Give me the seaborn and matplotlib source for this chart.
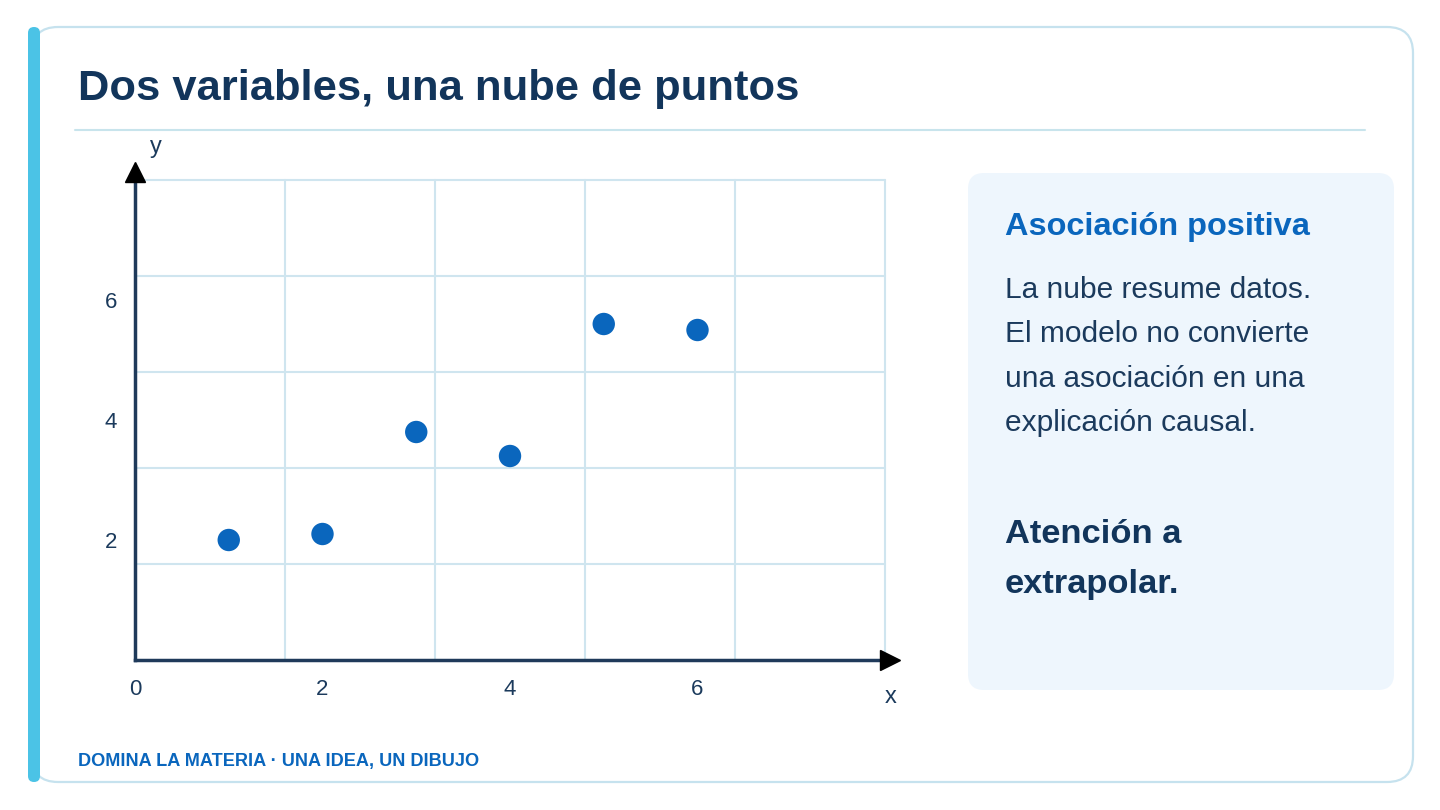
import numpy as np
import pandas as pd
import matplotlib
matplotlib.use("Agg")
import matplotlib.pyplot as plt
from matplotlib.patches import FancyBboxPatch
import seaborn as sns

# ---- data ----
x_vals = [1, 2, 3, 4, 5, 6]
y_vals = [2.0, 2.1, 3.8, 3.4, 5.6, 5.5]
x_ticks = [0, 2, 4, 6]
y_ticks = [2, 4, 6]
title = "Dos variables, una nube de puntos"
panel_heading = "Asociación positiva"
panel_body = ["La nube resume datos.", "El modelo no convierte",
              "una asociación en una", "explicación causal."]
panel_note = ["Atención a", "extrapolar."]
footer = "DOMINA LA MATERIA · UNA IDEA, UN DIBUJO"

sns.set_theme(style="white")
plt.rcParams['font.family'] = ['Liberation Sans', 'DejaVu Sans']

NAVY = "#12355B"
BLUE = "#0A66BD"
GRID = "#CFE5EF"
W, H = 1440, 810

fig = plt.figure(figsize=(14.4, 8.1), dpi=100)
fig.patch.set_facecolor("white")

# background / decoration axes in pixel coordinates
bg = fig.add_axes([0, 0, 1, 1], zorder=0)
bg.set_xlim(0, W)
bg.set_ylim(H, 0)
bg.axis("off")

card = FancyBboxPatch((32, 27), 1381, 755, boxstyle="round,pad=0,rounding_size=26",
                      facecolor="white", edgecolor="#C6E2EE", linewidth=1.6)
bg.add_patch(card)
bar = FancyBboxPatch((28, 27), 12, 755, boxstyle="round,pad=0,rounding_size=6",
                     facecolor="#4BC3E6", edgecolor="none")
bg.add_patch(bar)
bg.plot([75, 1365], [130, 130], color="#C8E4EC", lw=1.5)

panel = FancyBboxPatch((968, 173), 426, 517, boxstyle="round,pad=0,rounding_size=16",
                       facecolor="#EEF6FD", edgecolor="none")
bg.add_patch(panel)

bg.text(78, 100, title, fontsize=31.3, fontweight="bold", color=NAVY, va="baseline", ha="left")
bg.text(1005, 235, panel_heading, fontsize=23.4, fontweight="bold", color=BLUE, va="baseline")
for i, line in enumerate(panel_body):
    bg.text(1005, 298 + i * 44.4, line, fontsize=21.5, color="#1B3A5C", va="baseline")
for i, line in enumerate(panel_note):
    bg.text(1005, 543 + i * 50, line, fontsize=24.8, fontweight="bold", color=NAVY, va="baseline")
bg.text(78, 766, footer, fontsize=13.1, fontweight="bold", color=BLUE, va="baseline")

# chart axes
x0, x1, ytop, ybot = 135, 885, 180, 660
ax = fig.add_axes([x0 / W, (H - ybot) / H, (x1 - x0) / W, (ybot - ytop) / H], zorder=2)
ax.patch.set_alpha(0)
ax.set_xlim(0, 8)
ax.set_ylim(0, 8)

grid_pos = np.linspace(0, 8, 6)
for g in grid_pos[1:]:
    ax.axvline(g, color=GRID, lw=1.5, zorder=0, clip_on=False)
    ax.axhline(g, color=GRID, lw=1.5, zorder=0, clip_on=False)

df = pd.DataFrame({"x": x_vals, "y": y_vals})
sns.scatterplot(data=df, x="x", y="y", ax=ax, s=260, color=BLUE, edgecolor="none", zorder=3)

for s in ["top", "right"]:
    ax.spines[s].set_visible(False)
for s in ["left", "bottom"]:
    ax.spines[s].set_color("#1F3A5A")
    ax.spines[s].set_linewidth(2.5)
    ax.spines[s].set_zorder(4)

ax.plot(8.05, 0, marker=">", color="black", markersize=14, clip_on=False, zorder=5)
ax.plot(0, 8.13, marker="^", color="black", markersize=14, clip_on=False, zorder=5)

ax.set_xticks(x_ticks)
ax.set_yticks(y_ticks)
ax.set_xticklabels([str(t) for t in x_ticks])
ax.set_yticklabels([str(t) for t in y_ticks])
ax.tick_params(axis="both", length=0, labelsize=16, labelcolor="#1B3A5C")
ax.tick_params(axis="x", pad=14)
ax.tick_params(axis="y", pad=13)
ax.set_xlabel("")
ax.set_ylabel("")

ax.text(8.06, -0.62, "x", fontsize=17, color="#1B3A5C", ha="center", va="center")
ax.text(0.22, 8.55, "y", fontsize=17, color="#1B3A5C", ha="center", va="center")

fig.savefig("out.png", dpi=100, facecolor="white")
